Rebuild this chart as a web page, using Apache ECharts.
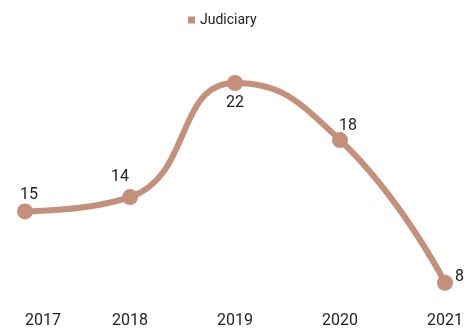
<!DOCTYPE html>
<html>
<head>
<meta charset="utf-8">
<script src="https://cdn.jsdelivr.net/npm/echarts@6/dist/echarts.min.js"></script>
<style>
  html, body { margin: 0; padding: 0; background: #fff; }
  #chart { width: 468px; height: 329px; }
</style>
</head>
<body>
<div id="chart"></div>
<script>
// data
const years = ['2017', '2018', '2019', '2020', '2021'];
// where the points sit on the chart
const judiciary = [13, 14, 22, 18, 8];
// numbers printed next to the points
const judiciaryLabels = [15, 14, 22, 18, 8];

const lineColor = '#C49079';
const textColor = '#222';

// label placement per point (style only)
const labelPlace = [
  { position: 'top', distance: 0, offset: [4, 0] },
  { position: 'top', distance: 4, offset: [-10, 0] },
  { position: 'bottom', distance: 4, offset: [0, 0] },
  { position: 'top', distance: 0, offset: [8, 2] },
  { position: 'right', distance: 2, offset: [0, -6] }
];

const chart = echarts.init(document.getElementById('chart'));

chart.setOption({
  animation: false,
  legend: {
    top: 8,
    left: 183,
    icon: 'rect',
    itemWidth: 7,
    itemHeight: 7,
    itemGap: 8,
    textStyle: { color: textColor, fontSize: 14, fontFamily: 'Roboto' },
    data: ['Judiciary']
  },
  grid: { left: 25, right: 23, top: 68.7, bottom: 31.7 },
  xAxis: {
    type: 'category',
    boundaryGap: false,
    data: years,
    axisLine: { show: false },
    axisTick: { show: false },
    axisLabel: {
      color: textColor,
      fontSize: 16,
      fontFamily: 'Roboto',
      margin: 16,
      alignMinLabel: 'left'
    }
  },
  yAxis: {
    type: 'value',
    min: 7,
    max: 23,
    show: false,
    splitLine: { show: false }
  },
  series: [{
    name: 'Judiciary',
    type: 'line',
    smooth: 0.5,
    symbol: 'circle',
    symbolSize: 16,
    lineStyle: { color: lineColor, width: 6 },
    itemStyle: { color: lineColor },
    data: judiciary.map((v, i) => ({
      value: v,
      label: {
        show: true,
        formatter: String(judiciaryLabels[i]),
        color: textColor,
        fontSize: 16,
        fontFamily: 'Roboto',
        ...labelPlace[i]
      }
    }))
  }]
});
</script>
</body>
</html>
